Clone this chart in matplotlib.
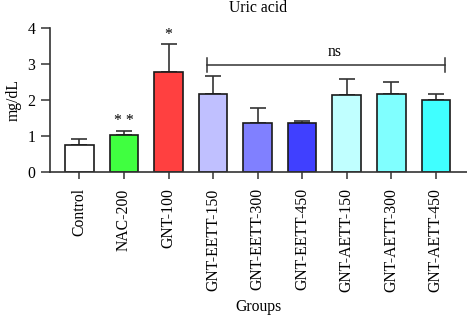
import numpy as np
import matplotlib
matplotlib.use('Agg')
import matplotlib.pyplot as plt

plt.rcParams['font.family'] = ['Liberation Serif', 'DejaVu Serif']

groups = ['Control', 'NAC-200', 'GNT-100', 'GNT-EETT-150', 'GNT-EETT-300',
          'GNT-EETT-450', 'GNT-AETT-150', 'GNT-AETT-300', 'GNT-AETT-450']
means = [0.75, 1.02, 2.77, 2.17, 1.35, 1.35, 2.15, 2.17, 2.01]
errors = [0.15, 0.12, 0.78, 0.50, 0.43, 0.07, 0.43, 0.33, 0.16]
colors = ['#FFFFFF', '#40FF40', '#FF4040', '#C0C0FF', '#8080FF', '#4040FF',
          '#C0FFFF', '#80FFFF', '#40FFFF']
stars = {1: '* *', 2: '*'}

fs = 11.3
fig = plt.figure(figsize=(4.67, 3.19), dpi=100)
ax = fig.add_axes([50/467, 1 - 171.7/319, 417/467, (171.7 - 28.3)/319])

x = np.arange(len(groups))
ax.bar(x, means, width=0.64, color=colors, edgecolor='#1a1a1a', linewidth=1.2, zorder=2)
ax.errorbar(x, means, yerr=[np.zeros(len(errors)), errors], fmt='none',
            ecolor='#333333', elinewidth=1.2, capsize=5.5, capthick=1.2, zorder=1)

for i, s in stars.items():
    ax.text(x[i], means[i] + errors[i] + 0.04, s, ha='center', va='bottom', fontsize=fs)

# ns bracket
bx0, bx1, by = 2.87, 8.2, 2.97
ax.plot([bx0, bx1], [by, by], color='#333333', lw=1.1, clip_on=False)
ax.plot([bx0, bx0], [by - 0.19, by + 0.19], color='#333333', lw=1.1, clip_on=False)
ax.plot([bx1, bx1], [by - 0.19, by + 0.19], color='#333333', lw=1.1, clip_on=False)
ax.text((bx0 + bx1) / 2 + 0.2, by + 0.15, 'ns', ha='center', va='bottom', fontsize=fs)

ax.set_xlim(-0.66, 8.7)
ax.set_ylim(0, 4)
ax.set_yticks([0, 1, 2, 3, 4])
ax.set_xticks(x)
ax.set_xticklabels(groups, rotation=90, fontsize=fs)
ax.tick_params(axis='y', labelsize=fs, length=6.5, width=1.1, color='#333333', pad=4)
ax.tick_params(axis='x', length=5, width=1.1, color='#333333', pad=7)
for side in ['top', 'right']:
    ax.spines[side].set_visible(False)
for side in ['left', 'bottom']:
    ax.spines[side].set_linewidth(1.2)
    ax.spines[side].set_color('#333333')

ax.set_ylabel('mg/dL', fontsize=fs, labelpad=4)
ax.set_xlabel('Groups', fontsize=fs, labelpad=5)
fig.text(258/467, 1 - 8/319, 'Uric acid', ha='center', va='center', fontsize=fs)

fig.savefig('out.png', dpi=100)
